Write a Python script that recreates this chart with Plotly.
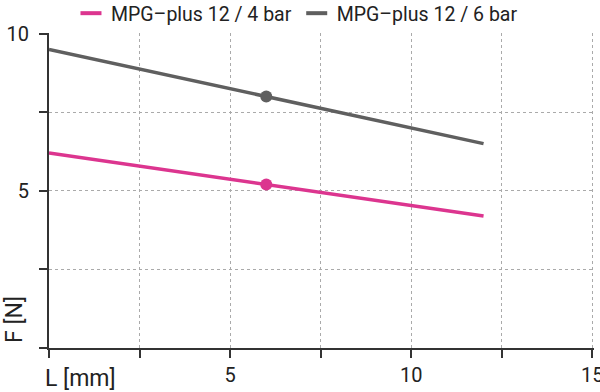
import plotly.graph_objects as go

# Data
lengths = [0, 6, 12]
force_4bar = [6.2, 5.2, 4.2]
force_6bar = [9.5, 8.0, 6.5]
marker_x = [6]
marker_4bar = [5.2]
marker_6bar = [8.0]
series_names = ["MPG–plus 12 / 4 bar", "MPG–plus 12 / 6 bar"]
x_ticks = [0, 2.5, 5, 7.5, 10, 12.5, 15]
x_ticklabels = ["", "", "5", "", "10", "", "15"]
y_ticks = [0, 2.5, 5, 7.5, 10]
y_ticklabels = ["", "", "5", "", "10"]

PINK = "#dc358f"
GRAY = "#5f5f5f"
FONT = "Roboto"

fig = go.Figure()
for ys, mys, col in [(force_4bar, marker_4bar, PINK), (force_6bar, marker_6bar, GRAY)]:
    fig.add_trace(go.Scatter(x=lengths, y=ys, mode="lines", line=dict(color=col, width=3.5),
                             showlegend=False, hoverinfo="skip"))
    fig.add_trace(go.Scatter(x=marker_x, y=mys, mode="markers",
                             marker=dict(color=col, size=12), showlegend=False))
for name, col in zip(series_names, [PINK, GRAY]):
    fig.add_trace(go.Scatter(x=[None], y=[None], mode="markers", name=name,
                             marker=dict(symbol="line-ew", size=15, line=dict(color=col, width=4))))

axis_common = dict(showline=True, linecolor="#333333", linewidth=2, ticks="outside",
                   ticklen=8, tickwidth=2, tickcolor="#333333", automargin=False,
                   ticklabeloverflow="allow",
                   showgrid=True, gridcolor="#aaaaaa", griddash="3px,3px", gridwidth=1,
                   zeroline=False, tickfont=dict(family=FONT, size=20, color="#222222"))

fig.update_layout(
    width=600, height=392,
    margin=dict(l=49, r=6, t=33, b=44, autoexpand=False),
    plot_bgcolor="white", paper_bgcolor="white",
    font=dict(family=FONT, size=17, color="#222222"),
    xaxis=dict(range=[0, 15.05], tickvals=x_ticks, ticktext=x_ticklabels, **axis_common),
    yaxis=dict(range=[0, 10.02], tickvals=y_ticks, ticktext=y_ticklabels, ticklabelstandoff=6, **axis_common),
    legend=dict(orientation="h", x=0.455, xanchor="center", y=1.0, yanchor="bottom",
                font=dict(family=FONT, size=19.5, color="#222222"), itemwidth=30,
                bgcolor="rgba(0,0,0,0)"),
    annotations=[
        dict(text="L [mm]", x=0, y=0, xref="x", yref="y", xanchor="left", yanchor="top",
             xshift=-6, yshift=-15, showarrow=False, font=dict(family=FONT, size=23, color="#222222")),
        dict(text="F [N]", x=0, y=0, xref="x", yref="y", xanchor="right", yanchor="bottom",
             xshift=-19, yshift=3, textangle=-90, showarrow=False,
             font=dict(family=FONT, size=23, color="#222222")),
    ],
)

fig.write_html("out.html", config={"displayModeBar": False},
               post_script="document.body.style.margin='0';document.body.style.overflow='hidden';")
